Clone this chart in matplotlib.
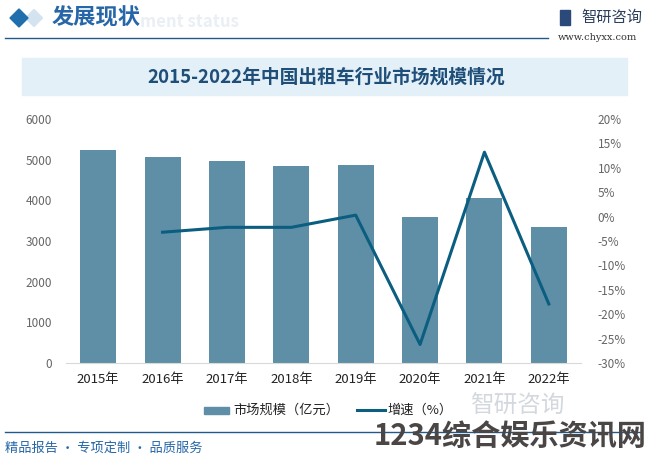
import numpy as np
import matplotlib.pyplot as plt
from matplotlib.patches import Rectangle, Polygon
from matplotlib.lines import Line2D

plt.rcParams['font.family'] = ['Noto Sans CJK SC', 'DejaVu Sans']

# 数据
years = ['2015年', '2016年', '2017年', '2018年', '2019年', '2020年', '2021年', '2022年']
market_size = [5240, 5065, 4965, 4845, 4870, 3590, 4055, 3345]
growth = [None, -3.2, -2.2, -2.2, 0.3, -26.2, 13.2, -17.9]
left_ticks = [0, 1000, 2000, 3000, 4000, 5000, 6000]
right_ticks = [-30, -25, -20, -15, -10, -5, 0, 5, 10, 15, 20]

bar_color = '#5e8fa6'
line_color = '#0b5e80'
dark_blue = '#1f4e79'

fig = plt.figure(figsize=(6.52, 4.57), dpi=100)
W, H = 652, 457

def fx(x):
    return x / W

def fy(y):
    return 1 - y / H

def diamond(cx, cy, r, color):
    pts = [(fx(cx - r), fy(cy)), (fx(cx), fy(cy - r)), (fx(cx + r), fy(cy)), (fx(cx), fy(cy + r))]
    fig.patches.append(Polygon(pts, closed=True, transform=fig.transFigure, color=color))

# 顶部标题栏
diamond(34, 18, 8.5, '#d3e3f0')
diamond(19, 18, 9, '#1f6fae')
fig.text(fx(52), fy(18), '发展现状', fontsize=16, color='#2767a8', va='center', fontweight='bold')
fig.text(fx(140), fy(22), 'ment status', fontsize=12, color='#eaeff4', va='center', fontweight='bold')
fig.lines.append(Line2D([fx(5), fx(548)], [fy(38), fy(38)], transform=fig.transFigure,
                        color='#1f5a8a', lw=1))
fig.patches.append(Rectangle((fx(560), fy(25)), fx(10), 15 / H, transform=fig.transFigure,
                             color='#2b4a7a'))
fig.text(fx(581), fy(17), '智研咨询', fontsize=11, color='#2b3e5a', va='center')
fig.text(fx(558), fy(37), 'www.chyxx.com', fontsize=7, color='#333333', va='center',
         family=['DejaVu Serif'])

# 图表标题背景
fig.patches.append(Rectangle((fx(22), fy(95)), fx(605), 37 / H, transform=fig.transFigure,
                             color='#e3f0f8', zorder=0))
fig.text(fx(326), fy(77), '2015-2022年中国出租车行业市场规模情况', fontsize=13.5,
         color=dark_blue, ha='center', va='center', fontweight='bold')

# 主图
ax = fig.add_axes([fx(66), fy(363), fx(515), 244 / H])
x = np.arange(len(years))
ax.bar(x, market_size, width=0.56, color=bar_color, zorder=2)
ax.set_xlim(-0.5, len(years) - 0.5)
ax.set_ylim(0, 6000)
ax.set_yticks(left_ticks)
ax.set_xticks(x)
ax.set_xticklabels(years, fontsize=9.5, color='#222222')
ax.tick_params(axis='y', labelsize=8.5, labelcolor='#666666', length=0, pad=10)
ax.tick_params(axis='x', length=0, pad=7)
for s in ['top', 'right', 'left']:
    ax.spines[s].set_visible(False)
ax.spines['bottom'].set_color('#d9d9d9')
ax.patch.set_alpha(0)

ax2 = ax.twinx()
gx = [i for i, g in enumerate(growth) if g is not None]
gy = [g for g in growth if g is not None]
ax2.plot(gx, gy, color=line_color, lw=2.2, zorder=3)
ax2.set_ylim(-30, 20)
ax2.set_yticks(right_ticks)
ax2.set_yticklabels([f'{t}%' for t in right_ticks])
ax2.tick_params(axis='y', labelsize=8.5, labelcolor='#666666', length=0, pad=12)
for s in ['top', 'right', 'left', 'bottom']:
    ax2.spines[s].set_visible(False)

# 图例
fig.patches.append(Rectangle((fx(204), fy(414)), fx(25), 7 / H, transform=fig.transFigure,
                             color=bar_color))
fig.text(fx(233), fy(410), '市场规模（亿元）', fontsize=9.5, color='#222222', va='center')
fig.lines.append(Line2D([fx(357), fx(385)], [fy(410), fy(410)], transform=fig.transFigure,
                        color=line_color, lw=2.2))
fig.text(fx(387), fy(410), '增速（%）', fontsize=9.5, color='#222222', va='center')

# 底部
fig.text(fx(470), fy(406), '智研咨询', fontsize=17, color='#c9ced6', va='center', alpha=0.8)
fig.lines.append(Line2D([fx(5), fx(640)], [fy(432), fy(432)], transform=fig.transFigure,
                        color='#1f5a8a', lw=1))
fig.text(fx(5), fy(448), '精品报告 · 专项定制 · 品质服务', fontsize=9.5, color='#2767a8', va='center')
fig.text(fx(646), fy(436), '1234综合娱乐资讯网', fontsize=21, color='#4a4646', ha='right',
         va='center', fontweight='bold')

fig.savefig('out.png', dpi=100)
